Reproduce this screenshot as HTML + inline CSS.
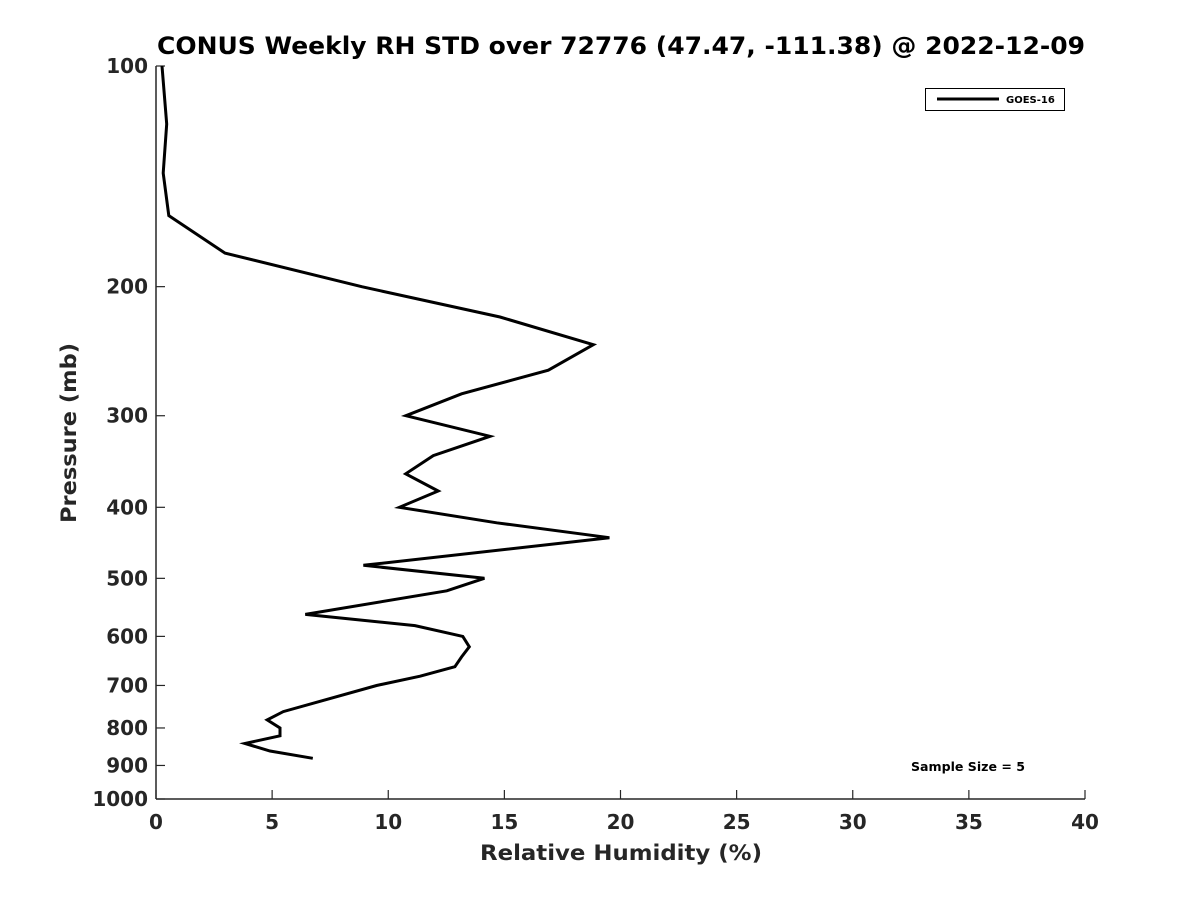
<!DOCTYPE html>
<html><head><meta charset="utf-8"><style>
body{margin:0;background:#fff;}
svg text{font-family:"DejaVu Sans","Liberation Sans",sans-serif;font-weight:bold;}
</style></head><body>
<svg id="chart" width="1200" height="900" xmlns="http://www.w3.org/2000/svg">
<rect width="1200" height="900" fill="#fff"/>
<text x="157" y="54" font-size="24" textLength="928" lengthAdjust="spacingAndGlyphs" fill="#000">CONUS Weekly RH STD over 72776 (47.47, -111.38) @ 2022-12-09</text>
<g id="axes"></g>
<polyline id="series" fill="none" stroke="#000" stroke-width="3" stroke-linejoin="miter"/>
<text x="480" y="860" font-size="21" textLength="282" lengthAdjust="spacingAndGlyphs" fill="#262626">Relative Humidity (%)</text>
<text transform="translate(76,523) rotate(-90)" font-size="21" textLength="180" lengthAdjust="spacingAndGlyphs" fill="#262626">Pressure (mb)</text>
<g>
<rect x="925.5" y="88.5" width="139" height="22" fill="#fff" stroke="#000" stroke-width="1"/>
<line x1="937" y1="99" x2="999" y2="99" stroke="#000" stroke-width="3"/>
<text x="1006" y="103" font-size="10" fill="#000">GOES-16</text>
</g>
<text x="911" y="771" font-size="12" textLength="114" lengthAdjust="spacingAndGlyphs" fill="#000">Sample Size = 5</text>
</svg>
<script>
const pressures=[100,120,140,160,180,200,220,240,260,280,300,320,340,360,380,400,420,440,480,500,520,560,580,600,620,640,660,680,700,760,780,800,820,840,860,880];
const rhStd=[0.26,0.46,0.31,0.55,2.97,8.86,14.81,18.83,16.89,13.16,10.76,14.38,11.94,10.75,12.15,10.48,14.67,19.52,8.93,14.14,12.52,6.43,11.15,13.21,13.49,13.16,12.87,11.37,9.50,5.48,4.79,5.34,5.34,3.83,4.91,6.75];
const xTicks=[0,5,10,15,20,25,30,35,40];
const yTicks=[100,200,300,400,500,600,700,800,900,1000];
const X0=156,X1=1085,Y0=66,Y1=799;
function xs(v){return X0+(v-0)/(40-0)*(X1-X0);}
function ys(p){return Y0+(Math.log10(p)-2)*(Y1-Y0);}
const NS='http://www.w3.org/2000/svg';
const ax=document.getElementById('axes');
function mk(tag,attrs){const e=document.createElementNS(NS,tag);for(const k in attrs)e.setAttribute(k,attrs[k]);ax.appendChild(e);return e;}
let l=mk('line',{x1:X0,y1:Y0,x2:X0,y2:Y1,stroke:'#262626','stroke-width':1.5});


l=mk('line',{x1:X0,y1:Y1,x2:X1,y2:Y1,stroke:'#262626','stroke-width':1.5});


xTicks.forEach(v=>{
 const t=mk('line',{x1:xs(v),y1:Y1,x2:xs(v),y2:Y1-9,stroke:'#262626','stroke-width':1.2});
 
 
 const tx=mk('text',{x:xs(v),y:Y1+30,'font-size':20,'text-anchor':'middle',fill:'#262626'});
 tx.textContent=v;
 
 
});
yTicks.forEach(p=>{
 const t=mk('line',{x1:X0,y1:ys(p),x2:X0+9,y2:ys(p),stroke:'#262626','stroke-width':1.2});
 
 
 const tx=mk('text',{x:X0-8,y:ys(p)+7,'font-size':20,'text-anchor':'end',fill:'#262626'});
 tx.textContent=p;
 
 
});
document.getElementById('series').setAttribute('points',pressures.map((p,i)=>xs(rhStd[i]).toFixed(1)+','+ys(p).toFixed(1)).join(' '));
</script>
</body></html>
